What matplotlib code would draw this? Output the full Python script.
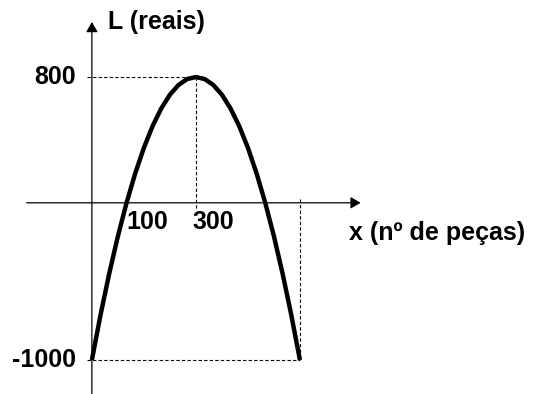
"""Profit curve L(x) for the number of pieces sold, drawn as a schematic sketch."""

import matplotlib
matplotlib.use("Agg")
import matplotlib.pyplot as plt

# pieces produced and profit (reais), read every 25 pieces
pieces = [0, 25, 50, 75, 100, 125, 150, 175, 200, 225, 250, 275, 300,
          325, 350, 375, 400, 425, 450, 475, 500, 525, 550, 575, 600]
profit = [-1000, -712.5, -450, -212.5, 0, 187.5, 350, 487.5, 600, 687.5, 750, 787.5, 800,
          787.5, 750, 687.5, 600, 487.5, 350, 187.5, 0, -212.5, -450, -712.5, -1000]

x_vertex, L_max = 300, 800
x_end, L_min = 600, -1000
x_ticks = [100, 300]

FONT = dict(family=["Liberation Sans", "DejaVu Sans"], weight="bold", size=18)

fig = plt.figure(figsize=(5.35, 3.94), dpi=100)
ax = fig.add_axes([0, 0, 1, 1])
ax.set_xlim(-265, 1278)
ax.set_ylim(-1216, 1290)
ax.axis("off")

# coordinate axes with arrow heads
arrow = dict(arrowstyle="-|>,head_length=0.6,head_width=0.35", lw=0.9,
             color="black", mutation_scale=10, shrinkA=0, shrinkB=0)
ax.annotate("", xy=(0, 1150), xytext=(0, -1216), arrowprops=arrow)
ax.annotate("", xy=(775, 0), xytext=(-188, 0), arrowprops=arrow)

# dashed guides to the vertex and the end point
dash = dict(color="black", lw=0.8, linestyle=(0, (3, 2)))
ax.plot([-15, x_vertex], [L_max, L_max], **dash)
ax.plot([x_vertex, x_vertex], [L_max, -30], **dash)
ax.plot([-15, x_end], [L_min, L_min], **dash)
ax.plot([x_end, x_end], [25, L_min], **dash)

ax.plot(pieces, profit, color="black", lw=3.2, solid_capstyle="butt")

ax.text(-46, L_max, f"{L_max}", ha="right", va="center", **FONT)
ax.text(-46, L_min, f"-{abs(L_min)}", ha="right", va="center", **FONT)
ax.text(x_ticks[0], -125, f"{x_ticks[0]}", ha="left", va="center", **FONT)
ax.text(x_ticks[1] - 9, -125, f"{x_ticks[1]}", ha="left", va="center", **FONT)
ax.text(46, 1150, "L (reais)", ha="left", va="center", **FONT)
ax.text(741, -190, "x (nº de peças)", ha="left", va="center", **FONT)

fig.savefig("out.png", dpi=100)
